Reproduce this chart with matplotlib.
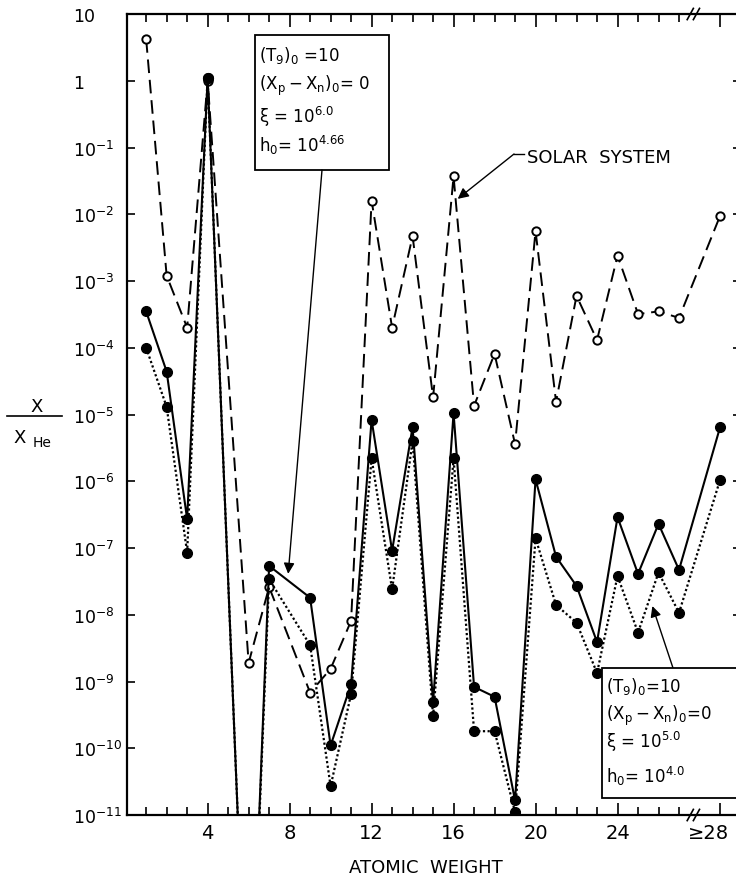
import numpy as np
import matplotlib
matplotlib.use("Agg")
import matplotlib.pyplot as plt
import matplotlib.transforms as mtransforms
from matplotlib.patches import Rectangle
from matplotlib.lines import Line2D
from matplotlib.ticker import NullLocator

plt.rcParams['font.family'] = ['DejaVu Sans']
plt.rcParams['mathtext.fontset'] = 'dejavusans'
plt.rcParams['mathtext.default'] = 'regular'

# atomic weight; the last position (29) stands for ">=28"
weight = [1, 2, 3, 4, 5, 6, 7, 8, 9, 10, 11, 12, 13, 14, 15, 16, 17, 18, 19, 20,
          21, 22, 23, 24, 25, 26, 27, 29]
nan = np.nan

solar = [4.2, 1.2e-3, 2e-4, 1.0, nan, 1.9e-9, 2.6e-8, nan, 6.8e-10, 1.55e-9,
         8.1e-9, 1.6e-2, 2e-4, 4.7e-3, 1.8e-5, 3.7e-2, 1.35e-5, 8.1e-5, 3.6e-6, 5.6e-3,
         1.55e-5, 6e-4, 1.3e-4, 2.4e-3, 3.2e-4, 3.5e-4, 2.8e-4, 9.4e-3]

# xi = 10^6.0, h0 = 10^4.66 (solid)
xi6 = [3.5e-4, 4.4e-5, 2.7e-7, 1.1, nan, 1e-15, 5.4e-8, nan, 1.8e-8, 1.1e-10,
       9.1e-10, 8.3e-6, 9.1e-8, 6.5e-6, 4.9e-10, 1.05e-5, 8.3e-10, 5.9e-10, 1.65e-11, 1.07e-6,
       7.4e-8, 2.7e-8, 3.9e-9, 2.9e-7, 4.1e-8, 2.3e-7, 4.7e-8, 6.4e-6]

# xi = 10^5.0, h0 = 10^4.0 (dotted)
xi5 = [1e-4, 1.3e-5, 8.5e-8, 1.1, nan, 1e-15, 3.4e-8, nan, 3.5e-9, 2.7e-11,
       6.5e-10, 2.2e-6, 2.4e-8, 4e-6, 3e-10, 2.2e-6, 1.8e-10, 1.8e-10, 1.1e-11, 1.4e-7,
       1.4e-8, 7.6e-9, 1.34e-9, 3.8e-8, 5.4e-9, 4.3e-8, 1.07e-8, 1.04e-6]

xticks = [4, 8, 12, 16, 20, 24, 29]
xticklabels = ['4', '8', '12', '16', '20', '24', '\u226528']
yticks = [10.0 ** k for k in range(1, -12, -1)]
yticklabels = ['10', '1'] + ['10$^{-%d}$' % k for k in range(1, 12)]

W, H = 736, 879


def fx(px):
    return px / W


def fy(py):
    return 1 - py / H


def valid(x, y):
    x = np.array(x, dtype=float)
    y = np.array(y, dtype=float)
    m = ~np.isnan(y)
    return x[m], y[m]


fig = plt.figure(figsize=(W / 100, H / 100), dpi=100)
ax = fig.add_axes([fx(127.3), fy(816), fx(740.5) - fx(127.3), fy(15) - fy(816)])
ax.set_yscale('log')
ax.set_xlim(0.08, 30)
ax.set_ylim(1e-11, 10)

x, y = valid(weight, solar)
ax.plot(x, y, color='k', lw=1.4, dashes=(7, 3.5), marker='o', ms=6,
        mfc='white', mec='k', mew=1.4, zorder=3)
x, y = valid(weight, xi5)
ax.plot(x, y, color='k', lw=1.6, dashes=(1, 1.1), marker='o', ms=7,
        mfc='k', mec='k', zorder=4)
x, y = valid(weight, xi6)
ax.plot(x, y, color='k', lw=1.5, ls='-', marker='o', ms=7,
        mfc='k', mec='k', zorder=5)

# axes styling
for s in ax.spines.values():
    s.set_linewidth(1.6)
ax.set_xticks(xticks)
ax.set_xticklabels(xticklabels, fontsize=14)
ax.set_xticks([v for v in range(1, 28) if v % 4 != 0], minor=True)
ax.tick_params(axis='x', which='both', direction='in', top=True, bottom=True,
               width=1.2, pad=6)
ax.tick_params(axis='x', which='major', length=9)
ax.tick_params(axis='x', which='minor', length=5.5)
# the ">=28" label sits a little left of its tick
last = ax.get_xticklabels()[-1]
last.set_transform(last.get_transform() +
                   mtransforms.ScaledTranslation(-11 / 100, 0, fig.dpi_scale_trans))
ax.set_yticks(yticks)
ax.set_yticklabels(yticklabels, fontsize=12.5)
ax.yaxis.set_minor_locator(NullLocator())
ax.tick_params(axis='y', which='major', direction='in', left=True, right=True,
               length=6, width=1.2, pad=39)
for lab in ax.get_yticklabels():
    lab.set_horizontalalignment('left')

# axis break marks
for yy in (0.0, 1.0):
    for dx in (-0.15, 0.15):
        ax.plot([27.55 + dx, 27.85 + dx], [yy - 0.007, yy + 0.007], color='k', lw=1.2,
                transform=ax.get_xaxis_transform(), clip_on=False, zorder=6)

# axis titles
fig.text(fx(37), fy(412), 'X', ha='center', va='baseline', fontsize=13)
fig.add_artist(Line2D([fx(7), fx(62)], [fy(417), fy(417)], color='k', lw=1.2))
fig.text(fx(13), fy(443), 'X', ha='left', va='baseline', fontsize=13)
fig.text(fx(33), fy(447), 'He', ha='left', va='baseline', fontsize=10)
fig.text(fx(426), fy(873), 'ATOMIC  WEIGHT', ha='center', va='baseline', fontsize=13)

# upper parameter box
fig.add_artist(Rectangle((fx(255), fy(171)), fx(389) - fx(255), fy(36) - fy(171),
                         transform=fig.transFigure, fill=False, lw=1.3, ec='k'))
upper = [r'$(T_9)_0$ =10', r'$(X_p - X_n)_0$= 0', r'$\xi$ = 10$^{6.0}$', r'h$_0$= 10$^{4.66}$']
for txt, base in zip(upper, [61, 90, 123, 152]):
    fig.text(fx(259), fy(base), txt, ha='left', va='baseline', fontsize=12)
ax.annotate('', xy=(7.93, 4.1e-8), xycoords='data',
            xytext=(fx(322), fy(171)), textcoords='figure fraction',
            arrowprops=dict(arrowstyle='-|>', color='k', lw=1.0, mutation_scale=16,
                            shrinkA=0, shrinkB=0))

# lower parameter box
fig.add_artist(Rectangle((fx(602), fy(799)), fx(760) - fx(602), fy(669) - fy(799),
                         transform=fig.transFigure, fill=True, fc='white', lw=1.3,
                         ec='k', zorder=7))
lower = [r'$(T_9)_0$=10', r'$(X_p - X_n)_0$=0', r'$\xi$ = 10$^{5.0}$', r'h$_0$= 10$^{4.0}$']
for txt, base in zip(lower, [692, 720, 748, 783]):
    fig.text(fx(606), fy(base), txt, ha='left', va='baseline', fontsize=12, zorder=8)
ax.annotate('', xy=(25.7, 1.35e-8), xycoords='data',
            xytext=(fx(673), fy(669)), textcoords='figure fraction',
            arrowprops=dict(arrowstyle='-|>', color='k', lw=1.0, mutation_scale=16,
                            shrinkA=0, shrinkB=0))

# solar system label
fig.text(fx(527), fy(163), 'SOLAR  SYSTEM', ha='left', va='baseline', fontsize=13)
fig.add_artist(Line2D([fx(514), fx(524)], [fy(155), fy(155)], color='k', lw=1.0))
ax.annotate('', xy=(16.2, 0.017), xycoords='data',
            xytext=(fx(514), fy(155)), textcoords='figure fraction',
            arrowprops=dict(arrowstyle='-|>', color='k', lw=1.0, mutation_scale=16,
                            shrinkA=0, shrinkB=0))

fig.savefig('out.png', dpi=100, facecolor='white')
